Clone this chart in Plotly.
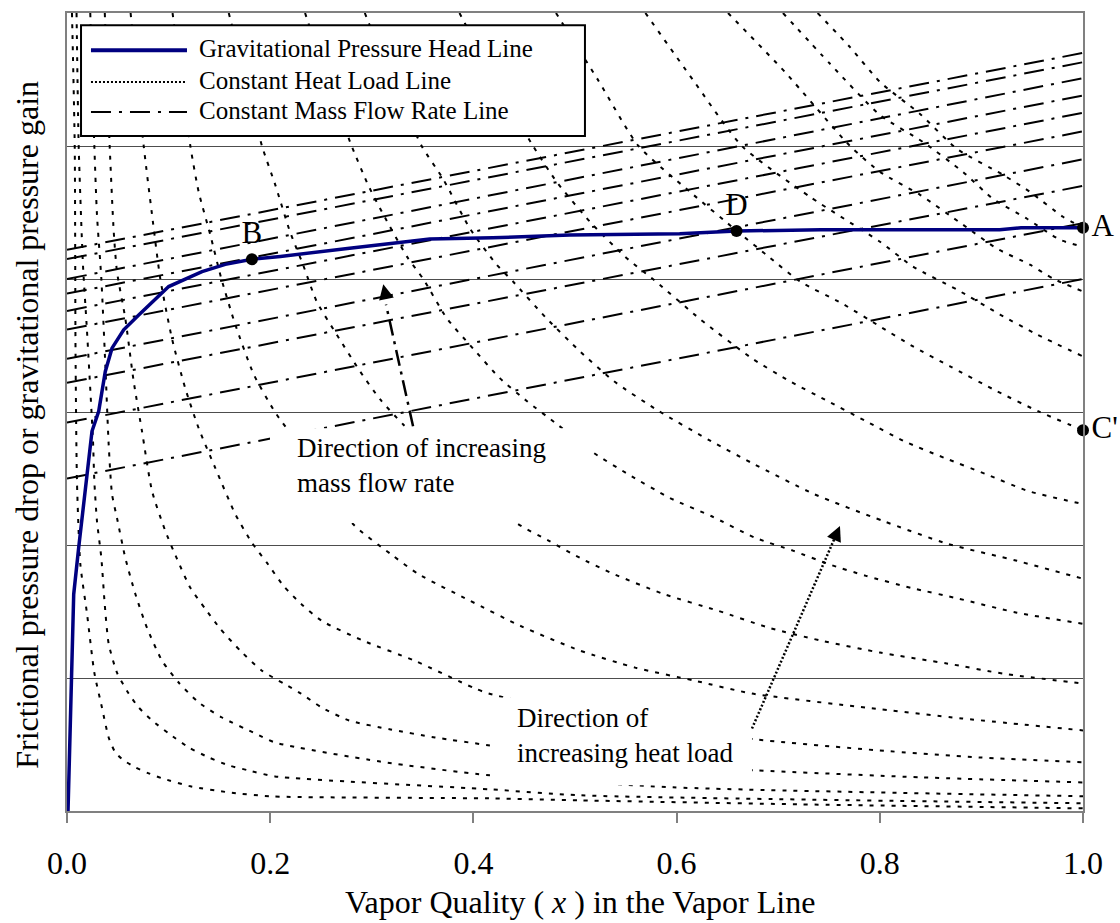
import plotly.graph_objects as go

# ---------------- data (x = vapor quality, y = grid units 0..6) ----------------
grav_x = [0.001, 0.0049, 0.0066, 0.0115, 0.0164, 0.0246, 0.0312, 0.0377, 0.0443, 0.0558, 0.0706,
          0.1001, 0.1329, 0.1558, 0.182, 0.21, 0.276, 0.357, 0.419, 0.495, 0.603, 0.659, 0.742,
          0.918, 0.939, 1.0]
grav_y = [0.0, 1.003, 1.63, 1.98, 2.305, 2.855, 3.005, 3.305, 3.48, 3.618, 3.73,
          3.943, 4.055, 4.11, 4.148, 4.17, 4.23, 4.30, 4.31, 4.33, 4.34, 4.361, 4.37,
          4.37, 4.385, 4.385]

# constant heat load lines
q01_x = [0.0049, 0.0076, 0.0084, 0.0098, 0.0131, 0.0197, 0.0269, 0.0344, 0.041, 0.0475, 0.0558, 0.0672,
         0.0804, 0.0935, 0.1214, 0.1592, 0.2018, 0.4163, 0.5049, 0.7215, 1.0]
q01_y = [6.0, 5.0, 3.455, 2.48, 1.858, 1.483, 1.04, 0.778, 0.553, 0.441, 0.381, 0.328,
         0.283, 0.246, 0.186, 0.14, 0.11, 0.095, 0.08, 0.05, 0.02]
q02_x = [0.0094, 0.0115, 0.0157, 0.0197, 0.0256, 0.0269, 0.0295, 0.0338, 0.0371, 0.041, 0.0492, 0.0607,
         0.0706, 0.0837, 0.1001, 0.1198, 0.1395, 0.1592, 0.1788, 0.2047, 0.4163, 0.5049, 1.0]
q02_y = [6.0, 5.0, 4.108, 3.606, 2.781, 2.48, 2.18, 1.903, 1.558, 1.258, 1.04, 0.883,
         0.778, 0.681, 0.583, 0.478, 0.403, 0.343, 0.305, 0.26, 0.163, 0.118, 0.058]
q03_x = [0.0229, 0.0269, 0.0295, 0.0338, 0.0377, 0.041, 0.0443, 0.0492, 0.0574, 0.0672, 0.0787, 0.0935,
         0.1099, 0.1296, 0.1526, 0.1853, 0.2047, 0.3081, 0.4163, 0.5965, 1.0]
q03_y = [6.0, 5.0, 4.483, 4.003, 3.358, 2.758, 2.383, 2.203, 1.903, 1.633, 1.378, 1.131,
         0.966, 0.816, 0.703, 0.583, 0.515, 0.372, 0.268, 0.178, 0.111]
q04_x = [0.0372, 0.042, 0.046, 0.0492, 0.0574, 0.0656, 0.0738, 0.0837, 0.0968, 0.1083, 0.1214, 0.1361,
         0.1509, 0.1706, 0.1919, 0.2134, 0.2303, 0.2507, 0.2776, 0.3185, 0.3622, 0.4163, 0.5443,
         0.6778, 0.8406, 1.0]
q04_y = [6.0, 5.0, 4.355, 4.055, 3.703, 3.231, 2.856, 2.405, 2.105, 1.895, 1.678, 1.52,
         1.37, 1.205, 1.055, 0.958, 0.883, 0.778, 0.681, 0.613, 0.553, 0.493, 0.366,
         0.306, 0.253, 0.215]
q05_x = [0.0626, 0.0755, 0.0837, 0.0918, 0.1033, 0.1164, 0.1296, 0.146, 0.1656, 0.1821, 0.1969, 0.2134,
         0.2303, 0.2507, 0.2913, 0.3422, 0.3996, 0.4151, 0.5443, 0.6778, 0.7998, 0.8976, 1.0]
q05_y = [6.0, 5.0, 4.483, 4.003, 3.553, 3.178, 2.878, 2.578, 2.233, 2.016, 1.865, 1.69,
         1.558, 1.43, 1.281, 1.13, 0.928, 0.883, 0.666, 0.538, 0.455, 0.403, 0.366]
q06_x = [0.1039, 0.1214, 0.1296, 0.141, 0.1519, 0.1656, 0.1838, 0.205, 0.2293, 0.2815, 0.3185, 0.3455,
         0.3967, 0.4459, 0.5049, 0.5591, 0.6171, 0.6742, 0.7864, 0.8809, 1.0]
q06_y = [6.0, 5.0, 4.655, 4.333, 4.003, 3.658, 3.283, 2.996, 2.743, 2.158, 1.933, 1.783,
         1.581, 1.393, 1.206, 1.078, 0.981, 0.883, 0.778, 0.696, 0.606]
q07_x = [0.1592, 0.1752, 0.1919, 0.205, 0.2195, 0.2323, 0.2458, 0.2654, 0.2884, 0.3081, 0.3307, 0.3868,
         0.4439, 0.4744, 0.5049, 0.5354, 0.5866, 0.6407, 0.6909, 0.7421, 0.8002, 0.8671, 0.9213, 1.0]
q07_y = [6.0, 5.518, 5.0, 4.708, 4.355, 4.108, 3.83, 3.583, 3.306, 3.096, 2.908, 2.518,
         2.158, 2.031, 1.903, 1.791, 1.633, 1.506, 1.378, 1.281, 1.191, 1.108, 1.033, 0.958]
q08_x = [0.2343, 0.2569, 0.2802, 0.2963, 0.311, 0.3346, 0.3504, 0.374, 0.3996, 0.4262, 0.4528, 0.4823,
         0.5187, 0.5522, 0.5935, 0.6339, 0.6778, 0.7151, 0.749, 0.7864, 0.8307, 0.878, 0.935, 1.0]
q08_y = [6.0, 5.482, 5.0, 4.708, 4.49, 4.168, 4.003, 3.703, 3.478, 3.253, 3.081, 2.908,
         2.691, 2.533, 2.353, 2.218, 2.053, 1.956, 1.858, 1.768, 1.678, 1.596, 1.491, 1.408]
q09_x = [0.2931, 0.3199, 0.3491, 0.3701, 0.3967, 0.4229, 0.439, 0.4721, 0.5049, 0.5384, 0.5827, 0.6339,
         0.6742, 0.7352, 0.8031, 0.8671, 0.935, 1.0]
q09_y = [6.0, 5.498, 5.0, 4.753, 4.378, 4.108, 3.981, 3.703, 3.456, 3.231, 3.006, 2.781,
         2.616, 2.383, 2.181, 2.008, 1.881, 1.746]
q10_x = [0.3863, 0.4213, 0.4587, 0.482, 0.5148, 0.5492, 0.5797, 0.6235, 0.6742, 0.7116, 0.749, 0.7864,
         0.8238, 0.8642, 0.9045, 0.9459, 1.0]
q10_y = [6.0, 5.497, 5.0, 4.73, 4.43, 4.168, 3.981, 3.696, 3.403, 3.231, 3.081, 2.931,
         2.781, 2.653, 2.533, 2.406, 2.308]
q11_x = [0.4813, 0.5226, 0.5625, 0.6132, 0.6591, 0.6919, 0.7215, 0.7628, 0.8002, 0.8327, 0.8691, 0.9154,
         0.9557, 1.0]
q11_y = [6.0, 5.497, 5.0, 4.655, 4.363, 4.16, 3.981, 3.816, 3.643, 3.493, 3.343, 3.156,
         3.006, 2.863]
q12_x = [0.5693, 0.6161, 0.6642, 0.7313, 0.8002, 0.8327, 0.876, 0.9183, 0.9547, 1.0]
q12_y = [6.0, 5.497, 5.0, 4.618, 4.28, 4.093, 3.92, 3.733, 3.583, 3.418]
q13_x = [0.6506, 0.7067, 0.7707, 0.8002, 0.8396, 0.8819, 0.9154, 0.9478, 0.9705, 1.0]
q13_y = [6.0, 5.556, 5.0, 4.805, 4.633, 4.408, 4.228, 4.108, 4.003, 3.906]
q14_x = [0.7047, 0.751, 0.8002, 0.8425, 0.8819, 0.9114, 0.9449, 0.9774, 1.0]
q14_y = [6.0, 5.618, 5.233, 5.03, 4.805, 4.603, 4.453, 4.295, 4.243]
q15_x = [0.7388, 0.7707, 0.8002, 0.8396, 0.876, 0.9213, 0.9478, 0.9803, 1.0]
q15_y = [6.0, 5.743, 5.481, 5.241, 4.978, 4.783, 4.655, 4.468, 4.386]

# constant mass flow rate lines (straight, x = 0 to x = 1)
mass_flow_x = [0.0, 1.0]
mass_flow_y_start = [2.50, 2.92, 3.22, 3.40, 3.62, 3.76, 3.89, 4.00, 4.15, 4.22]
mass_flow_y_end = [4.00, 4.42, 4.70, 4.90, 5.11, 5.25, 5.38, 5.51, 5.63, 5.70]

# marked states
state_labels = ["A", "B", "C'", "D"]
state_x = [1.0, 0.182, 1.0, 0.659]
state_y = [4.385, 4.148, 2.863, 4.361]

x_tick_vals = [0.0, 0.2, 0.4, 0.6, 0.8, 1.0]
x_tick_text = ["0.0", "0.2", "0.4", "0.6", "0.8", "1.0"]

heat_load_curves = [(q01_x, q01_y), (q02_x, q02_y), (q03_x, q03_y), (q04_x, q04_y), (q05_x, q05_y),
                    (q06_x, q06_y), (q07_x, q07_y), (q08_x, q08_y), (q09_x, q09_y), (q10_x, q10_y),
                    (q11_x, q11_y), (q12_x, q12_y), (q13_x, q13_y), (q14_x, q14_y), (q15_x, q15_y)]

# ---------------- styles ----------------
FONT = "Liberation Serif, Times New Roman, serif"
HEAT_DASH = "4px,7px"
MASS_DASH = "20px,8px,3px,8px"

fig = go.Figure()

for hx, hy in heat_load_curves:
    fig.add_trace(go.Scatter(x=hx, y=hy, mode="lines", showlegend=False, hoverinfo="skip",
                             line=dict(color="black", width=2, dash=HEAT_DASH, shape="spline", smoothing=0.6)))

for y0, y1 in zip(mass_flow_y_start, mass_flow_y_end):
    fig.add_trace(go.Scatter(x=mass_flow_x, y=[y0, y1], mode="lines", showlegend=False, hoverinfo="skip",
                             line=dict(color="black", width=2, dash=MASS_DASH)))

fig.add_trace(go.Scatter(x=grav_x, y=grav_y, mode="lines", showlegend=False,
                         line=dict(color="#000080", width=3.5)))

fig.add_trace(go.Scatter(x=state_x, y=state_y, mode="markers+text", text=state_labels,
                         textposition=["middle right", "top center", "middle right", "top center"],
                         textfont=dict(family=FONT, size=31, color="black"),
                         marker=dict(color="black", size=12), showlegend=False, cliponaxis=False))

shapes = [
    # white boxes behind the two direction notes
    dict(type="rect", xref="x", yref="y", x0=0.1998, x1=0.5177, y0=2.165, y1=2.878,
         fillcolor="white", line=dict(width=0), layer="above"),
    dict(type="rect", xref="x", yref="y", x0=0.4163, x1=0.6742, y0=0.193, y1=0.853,
         fillcolor="white", line=dict(width=0), layer="above"),
    # arrow shafts
    dict(type="line", xref="x", yref="y", x0=0.3406, y0=2.893, x1=0.3140, y1=3.808,
         line=dict(color="black", width=2.5, dash="16px,6px,3px,6px"), layer="above"),
    dict(type="line", xref="x", yref="y", x0=0.6742, y0=0.620, x1=0.7569, y1=2.075,
         line=dict(color="black", width=2.5, dash="2px,2px"), layer="above"),
    # legend box and samples
    dict(type="rect", xref="paper", yref="paper", x0=0.0138, x1=0.5098, y0=0.8459, y1=0.9846,
         fillcolor="white", line=dict(color="black", width=2), layer="above"),
    dict(type="line", xref="paper", yref="paper", x0=0.0236, x1=0.1181, y0=0.9534, y1=0.9534,
         line=dict(color="#000080", width=4), layer="above"),
    dict(type="line", xref="paper", yref="paper", x0=0.0236, x1=0.1181, y0=0.9134, y1=0.9134,
         line=dict(color="black", width=2, dash="2px,2px"), layer="above"),
    dict(type="line", xref="paper", yref="paper", x0=0.0236, x1=0.1181, y0=0.8759, y1=0.8759,
         line=dict(color="black", width=2, dash=MASS_DASH), layer="above"),
]

legend_font = dict(family=FONT, size=25, color="black")
note_font = dict(family=FONT, size=27, color="black")
axis_font = dict(family=FONT, size=32, color="black")

annotations = [
    dict(xref="paper", yref="paper", x=0.128, y=0.9559, text="Gravitational Pressure Head Line",
         showarrow=False, xanchor="left", yanchor="middle", font=legend_font),
    dict(xref="paper", yref="paper", x=0.128, y=0.9159, text="Constant Heat Load Line",
         showarrow=False, xanchor="left", yanchor="middle", font=legend_font),
    dict(xref="paper", yref="paper", x=0.128, y=0.8784, text="Constant Mass Flow Rate Line",
         showarrow=False, xanchor="left", yanchor="middle", font=legend_font),
    dict(xref="x", yref="y", x=0.2245, y=2.60, text="Direction of increasing<br>mass flow rate",
         showarrow=False, xanchor="left", yanchor="middle", align="left", font=note_font),
    dict(xref="x", yref="y", x=0.441, y=0.57, text="Direction of<br>increasing heat load",
         showarrow=False, xanchor="left", yanchor="middle", align="left", font=note_font),
    # arrow heads
    dict(xref="x", yref="y", x=0.3113, y=3.96, ax=3.4, ay=15.6, text="", showarrow=True,
         arrowhead=2, arrowsize=1.5, arrowwidth=2, arrowcolor="black", standoff=0),
    dict(xref="x", yref="y", x=0.7608, y=2.143, ax=-6.4, ay=14.7, text="", showarrow=True,
         arrowhead=2, arrowsize=1.5, arrowwidth=2, arrowcolor="black", standoff=0),
    # axis titles
    dict(xref="paper", yref="paper", x=0.505, y=-0.1138, text="Vapor Quality ( <i>x</i> ) in the Vapor Line",
         showarrow=False, xanchor="center", yanchor="middle", font=axis_font),
    dict(xref="paper", yref="paper", x=-0.0394, y=0.484,
         text="Frictional pressure drop or gravitational pressure gain",
         showarrow=False, xanchor="center", yanchor="middle", textangle=-90, font=axis_font),
]

fig.update_layout(
    width=1120, height=923,
    margin=dict(l=67, r=37, t=11, b=112),
    paper_bgcolor="white", plot_bgcolor="white",
    font=dict(family=FONT, color="black"),
    shapes=shapes, annotations=annotations,
    showlegend=False,
    xaxis=dict(range=[0, 1], tickvals=x_tick_vals, ticktext=x_tick_text, ticks="outside", ticklen=10,
               tickwidth=1.5, tickcolor="#808080", showgrid=False, zeroline=False, showline=True,
               linecolor="#808080", linewidth=2, mirror=True, tickfont=axis_font, ticklabelstandoff=13),
    yaxis=dict(range=[0, 6], dtick=1, showticklabels=False, ticks="", showgrid=True,
               gridcolor="#4d4d4d", gridwidth=1, zeroline=False, showline=True,
               linecolor="#808080", linewidth=2, mirror=True),
)

fig.write_html("out.html")
